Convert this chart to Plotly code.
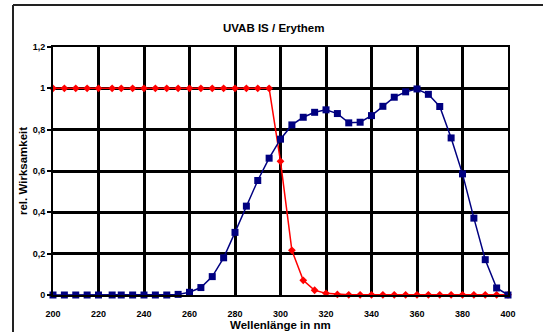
import plotly.graph_objects as go

# Wavelengths (nm) of the tabulated spectra
wavelength = [200, 205, 210, 215, 220, 226, 230, 235, 240, 245, 250, 255, 260, 265, 270,
              275, 280, 285, 290, 295, 300, 305, 310, 315, 320, 325, 330, 335, 340, 345,
              350, 355, 360, 365, 370, 375, 380, 385, 390, 395, 400]

# Relative spectral response of the UVAB sensor
uvab_is = [0, 0, 0, 0, 0, 0, 0, 0, 0, 0, 0, 0.003, 0.013, 0.036, 0.089,
           0.18, 0.303, 0.43, 0.554, 0.662, 0.754, 0.823, 0.86, 0.884, 0.896, 0.878, 0.833, 0.836, 0.868, 0.913,
           0.957, 0.983, 0.997, 0.971, 0.912, 0.76, 0.586, 0.372, 0.171, 0.034, 0]

# Erythema action spectrum
erythem = [1, 1, 1, 1, 1, 1, 1, 1, 1, 1, 1, 1, 1, 1, 1,
           1, 1, 1, 1, 1, 0.647, 0.216, 0.071, 0.023, 0.008, 0.003, 0.001, 0.001, 0.001, 0.001,
           0.001, 0.001, 0.001, 0.001, 0.001, 0.001, 0.001, 0.001, 0.001, 0.001, 0.001]

x_ticks = [200, 220, 240, 260, 280, 300, 320, 340, 360, 380, 400]
y_ticks = [0, 0.2, 0.4, 0.6, 0.8, 1.0, 1.2]
y_tick_text = ["0", "0,2", "0,4", "0,6", "0,8", "1", "1,2"]

FONT = "Arial, Liberation Sans, sans-serif"

fig = go.Figure()
fig.add_trace(go.Scatter(
    x=wavelength, y=erythem, mode="lines+markers", name="Erythem",
    line=dict(color="#FF0000", width=1.5),
    marker=dict(symbol="diamond", size=6, color="#FF0000"),
    cliponaxis=False,
))
fig.add_trace(go.Scatter(
    x=wavelength, y=uvab_is, mode="lines+markers", name="UVAB IS",
    line=dict(color="#000080", width=1.5),
    marker=dict(symbol="square", size=7, color="#000080"),
    cliponaxis=False,
))

L, R, T, B = 53, 508, 47, 295
W, H = 543, 332
pw, ph = R - L, B - T


def px(x):
    return (x - L) / pw


def py(y):
    return (B - y) / ph


axis_common = dict(
    showgrid=True, gridcolor="#000000", gridwidth=2.5,
    showline=True, linecolor="black", linewidth=2, mirror=True,
    zeroline=False, tickfont=dict(size=9, family=FONT, weight="bold"),
)

# chart-area frame: only its top and left edges fall inside the page
frame = dict(color="#222222", width=2)

fig.update_layout(
    width=W, height=H,
    margin=dict(l=L, r=W - R, t=T, b=H - B),
    paper_bgcolor="white", plot_bgcolor="white",
    showlegend=False,
    font=dict(family=FONT, color="black"),
    xaxis=dict(range=[200, 400], tickmode="array", tickvals=x_ticks, ticks="",
               ticklabelstandoff=9, **axis_common),
    yaxis=dict(range=[0, 1.2], tickmode="array", tickvals=y_ticks, ticktext=y_tick_text,
               ticks="outside", ticklen=4, tickwidth=1.5, tickcolor="black", **axis_common),
    shapes=[
        dict(type="line", xref="paper", yref="paper",
             x0=px(13), x1=px(W + 10), y0=py(5), y1=py(5), line=frame, layer="below"),
        dict(type="line", xref="paper", yref="paper",
             x0=px(13), x1=px(13), y0=py(5), y1=py(H + 10), line=frame, layer="below"),
    ],
    annotations=[
        dict(text="<b>UVAB IS / Erythem</b>", xref="paper", yref="paper",
             x=px(273), y=py(28), xanchor="center", yanchor="middle",
             showarrow=False, font=dict(size=11.5, family=FONT)),
        dict(text="<b>Wellenlänge in nm</b>", xref="paper", yref="paper",
             x=px(280), y=py(324.5), xanchor="center", yanchor="middle",
             showarrow=False, font=dict(size=11.5, family=FONT)),
        dict(text="<b>rel. Wirksamkeit</b>", xref="paper", yref="paper",
             x=px(23), y=py(171), xanchor="center", yanchor="middle", textangle=-90,
             showarrow=False, font=dict(size=11.5, family=FONT)),
    ],
)

fig.write_html("out.html")
